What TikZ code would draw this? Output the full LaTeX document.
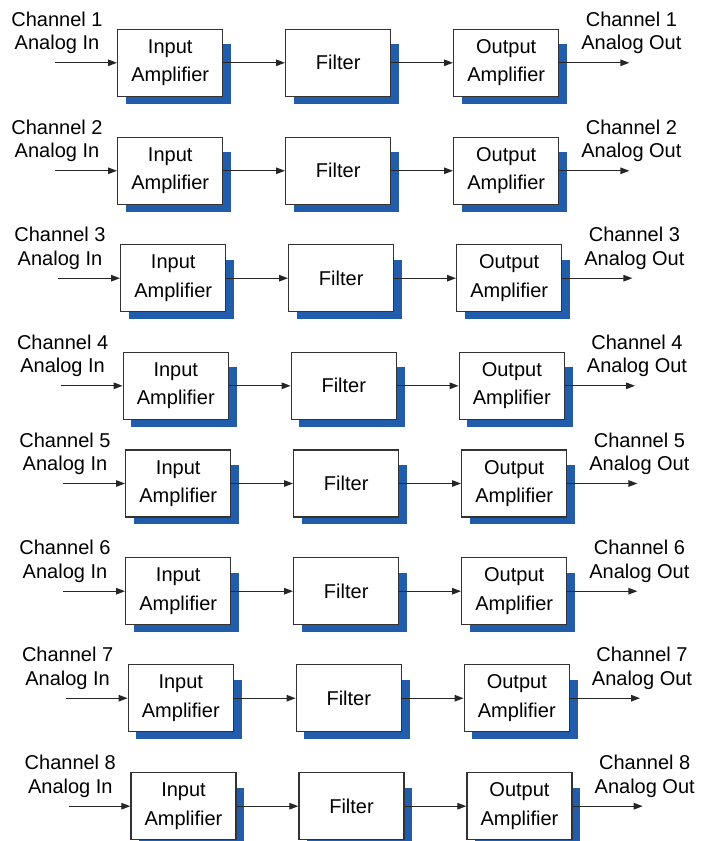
\documentclass[tikz,border=0pt]{standalone}
\usepackage{fontspec}
\setmainfont{Liberation Sans}
\usetikzlibrary{arrows.meta,backgrounds}
\definecolor{shadowblue}{RGB}{33,93,170}

\begin{document}
\begin{tikzpicture}
  [x=1pt, y=-1pt,
   block/.style={draw=black!80, line width=1.4pt, fill=white, minimum width=105pt,
     minimum height=67pt, inner sep=0pt, align=center, font=\fontsize{20}{28.4}\selectfont},
   chlabel/.style={inner sep=0pt, align=center, anchor=south, font=\fontsize{20}{23.3}\selectfont},
   signal/.style={draw=black!85, line width=1.2pt, -{Triangle[length=9pt,width=6.5pt]}},
   dropshade/.style={fill=shadowblue}]
  \useasboundingbox (0,0) rectangle (702,841);
  \foreach \n/\x/\y in {1/117.7/29.3, 2/117.7/137.3, 3/120.7/244.7, 4/123.3/352.3,
                        5/125.7/450, 6/125.7/557.7, 7/128.3/664.7, 8/131/772.7}
  {
    \node[block] (in\n)  at (\x+52.5,\y+33.5)  {Input\\Amplifier};
    \node[block] (flt\n) at (\x+220.5,\y+33.5) {Filter};
    \node[block] (out\n) at (\x+388.5,\y+33.5) {Output\\Amplifier};
    \coordinate (src\n) at ([xshift=-61.7pt]in\n.west);
    \coordinate (dst\n) at ([xshift=70pt]out\n.east);
    \node[chlabel] (lin\n)  at ([xshift=-60pt,yshift=8.6pt]in\n.west)  {Channel \n\\Analog In};
    \node[chlabel] (lout\n) at ([xshift=72pt,yshift=8.6pt]out\n.east) {Channel \n\\Analog Out};
    \draw[signal] (src\n) -- (in\n);
    \draw[signal] (in\n) -- (flt\n);
    \draw[signal] (flt\n) -- (out\n);
    \draw[signal] (out\n) -- (dst\n);
    \begin{pgfonlayer}{background}
      \foreach \b in {in,flt,out}
        \fill[dropshade] ([xshift=8.5pt,yshift=-6.5pt]\b\n.south west)
          rectangle ([xshift=7.5pt,yshift=-15.5pt]\b\n.north east);
    \end{pgfonlayer}
  }
\end{tikzpicture}
\end{document}
